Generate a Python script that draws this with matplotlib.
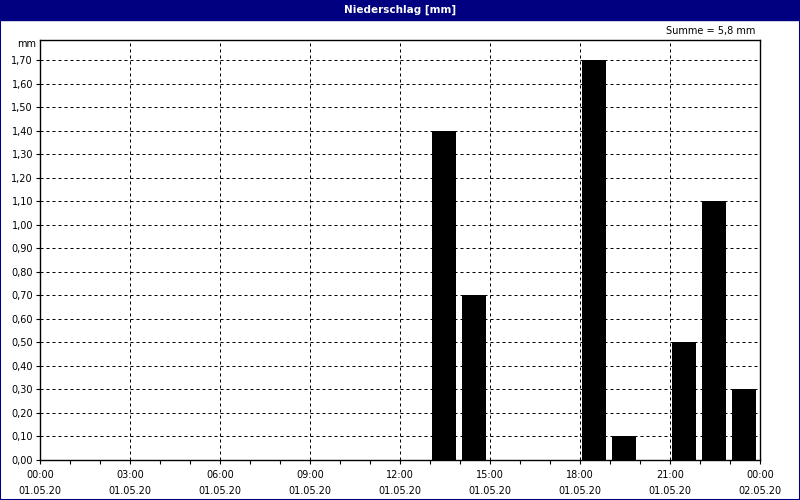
import matplotlib
matplotlib.use("Agg")
import matplotlib.pyplot as plt
from matplotlib.patches import Rectangle
from matplotlib.ticker import MultipleLocator, FixedLocator, FuncFormatter

title = "Niederschlag [mm]"
sum_label = "Summe = 5,8 mm"
unit_label = "mm"
hours = list(range(24))
precip = [0, 0, 0, 0, 0, 0, 0, 0, 0, 0, 0, 0, 0, 1.4, 0.7, 0, 0, 0, 1.7, 0.1, 0, 0.5, 1.1, 0.3]
xtick_hours = [0, 3, 6, 9, 12, 15, 18, 21, 24]
xtick_labels = ["00:00\n01.05.20", "03:00\n01.05.20", "06:00\n01.05.20", "09:00\n01.05.20",
                "12:00\n01.05.20", "15:00\n01.05.20", "18:00\n01.05.20", "21:00\n01.05.20",
                "00:00\n02.05.20"]
yticks = [i / 10 for i in range(18)]

navy = "#000080"
plt.rcParams['font.family'] = ['DejaVu Sans']

fig = plt.figure(figsize=(8, 5), dpi=100, facecolor="white")
# outer border and title bar
fig.patches.append(Rectangle((0, 0), 1, 1, transform=fig.transFigure, fill=False,
                             edgecolor=navy, linewidth=1.5, zorder=0))
fig.patches.append(Rectangle((0, 1 - 20 / 500), 1, 20 / 500, transform=fig.transFigure,
                             facecolor=navy, edgecolor=navy, zorder=1))
fig.text(0.5, 1 - 10 / 500, title, color="white", fontsize=7.5, fontweight="bold",
         ha="center", va="center")
fig.text(755 / 800, 1 - 31 / 500, sum_label, fontsize=7, ha="right", va="center")

ax = fig.add_axes([40 / 800, 40 / 500, 720 / 800, 420 / 500])
ax.set_facecolor("white")
ax.bar([h + 0.47 for h in hours], precip, width=0.8, color="black", linewidth=0, zorder=3)

ax.set_xlim(0, 24)
ax.set_ylim(0, 420 / 235.294)
ax.xaxis.set_major_locator(FixedLocator(xtick_hours))
ax.set_xticklabels(xtick_labels)
ax.xaxis.set_minor_locator(MultipleLocator(1))
ax.yaxis.set_major_locator(FixedLocator(yticks))
ax.yaxis.set_major_formatter(FuncFormatter(lambda v, p: f"{v:.2f}".replace(".", ",")))

ax.tick_params(axis="both", which="both", direction="out", length=3, width=0.8,
               labelsize=7, pad=2)
ax.tick_params(axis="x", which="major", pad=4)
for lab in ax.get_xticklabels():
    lab.set_linespacing(1.75)

ax.grid(True, which="major", axis="both", color="black", linewidth=0.72,
        linestyle=(0, (3, 3)))
ax.set_axisbelow(True)
for s in ax.spines.values():
    s.set_linewidth(1.0)
    s.set_color("black")

fig.text(36 / 800, 1 - 44 / 500, unit_label, fontsize=7, ha="right", va="center")

fig.savefig("out.png", dpi=100, facecolor="white")
